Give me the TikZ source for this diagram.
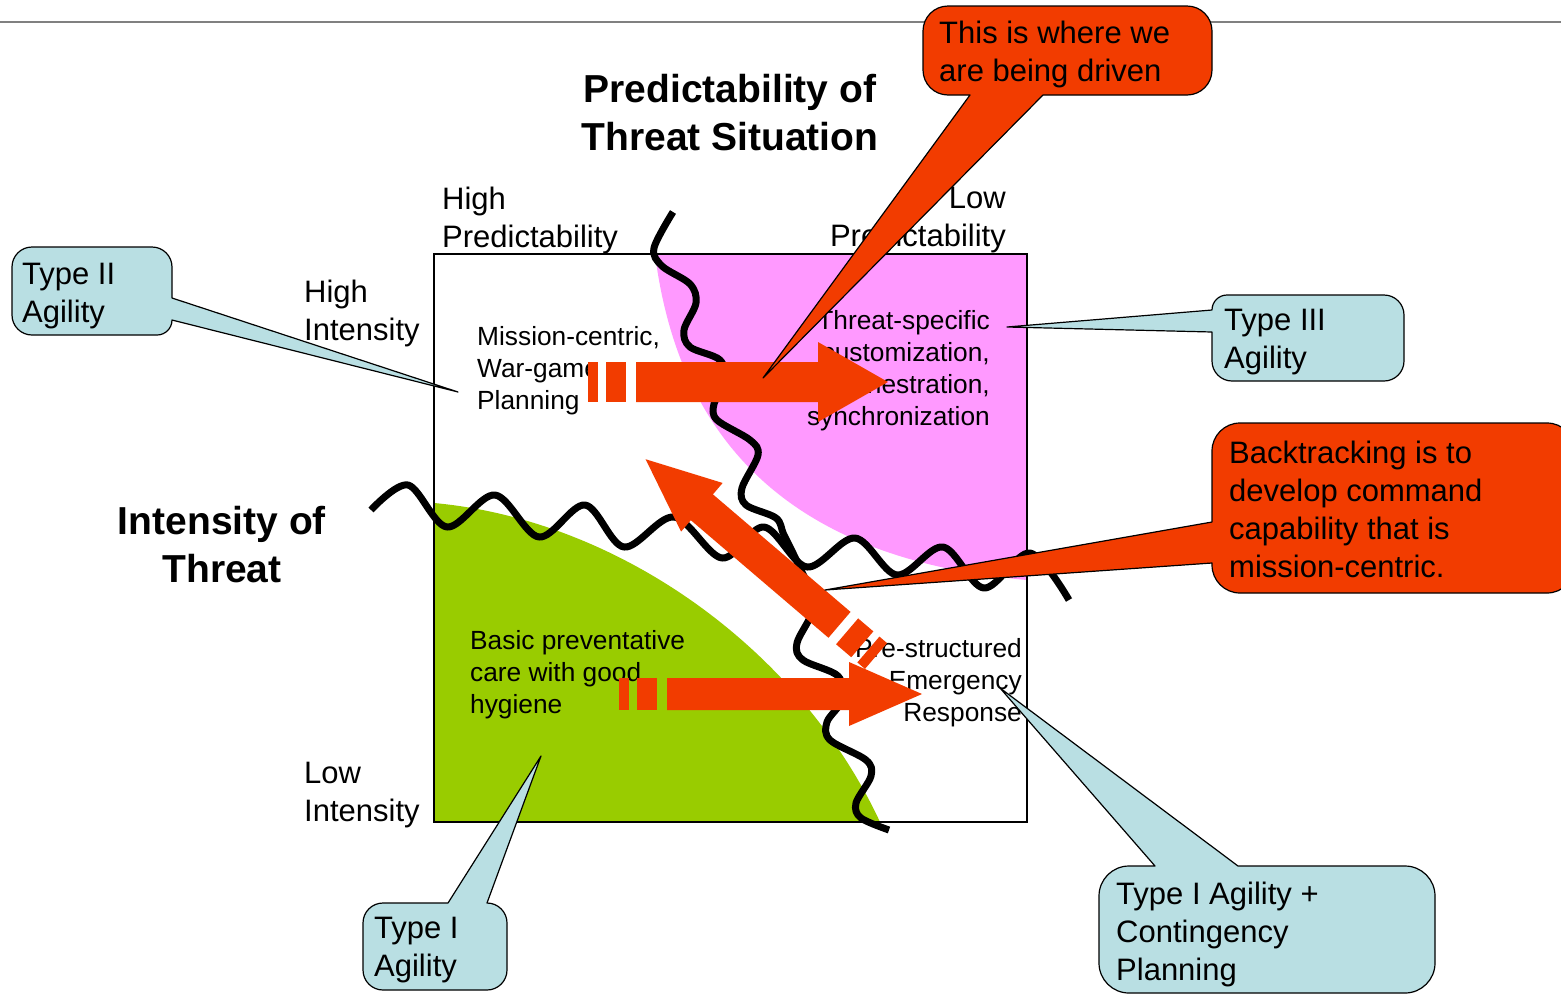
\documentclass[tikz,border=0pt]{standalone}
\usepackage{fontspec}
\setmainfont{Liberation Sans}
\definecolor{calred}{RGB}{242,60,0}
\definecolor{pinkzone}{RGB}{255,153,255}
\definecolor{greenzone}{RGB}{153,204,0}
\definecolor{calblue}{RGB}{185,223,227}
\definecolor{rulegray}{RGB}{128,128,128}
% rounded corners written as explicit curves (image coordinates, y downwards)
\newcommand\crTR[3]{-- ({#1-#3},#2) .. controls ({#1-0.448*#3},#2) and (#1,{#2+0.448*#3}) .. (#1,{#2+#3})}
\newcommand\crBR[3]{-- (#1,{#2-#3}) .. controls (#1,{#2-0.448*#3}) and ({#1-0.448*#3},#2) .. ({#1-#3},#2)}
\newcommand\crBL[3]{-- ({#1+#3},#2) .. controls ({#1+0.448*#3},#2) and (#1,{#2-0.448*#3}) .. (#1,{#2-#3})}
\newcommand\crTL[3]{-- (#1,{#2+#3}) .. controls (#1,{#2+0.448*#3}) and ({#1+0.448*#3},#2) .. ({#1+#3},#2)}
\newcommand\blockarrow[7]{%
  \begin{scope}[shift={(#1,#2)},rotate=#3]
    \fill[calred] (0,-#4) rectangle (10,#4);
    \fill[calred] (18,-#4) rectangle (38,#4);
    \fill[calred] (48,-#4) -- ({48+#6},-#4) -- ({48+#6},-#5) -- ({48+#6+#7},0)
      -- ({48+#6},#5) -- ({48+#6},#4) -- (48,#4) -- cycle;
  \end{scope}}
\tikzset{
  lbl/.style={inner sep=0pt, font=\fontsize{31}{38}\selectfont, align=left},
  ttl/.style={inner sep=0pt, font=\bfseries\fontsize{39}{48}\selectfont, align=center},
  inlbl/.style={inner sep=0pt, font=\fontsize{26.3}{32}\selectfont, align=left},
  wave/.style={line width=7pt, line join=round},
  bluecall/.style={fill=calblue, draw=black, line width=1.2pt, line join=round},
  redcall/.style={fill=calred, draw=black, line width=1.2pt, line join=round},
}
\begin{document}
\begin{tikzpicture}[x=1pt,y=-1pt]
\useasboundingbox (0,0) rectangle (1561,994);
\fill[white] (0,0) rectangle (1561,994);
% top rule
\draw[rulegray, line width=2pt] (0,22) -- (1561,22);
% zones
\fill[pinkzone] (655,254) -- (1027,254) -- (1027,580) .. controls (800,560) and (680,450) .. (655,254) -- cycle;
\fill[greenzone] (434,503) .. controls (620,520) and (800,650) .. (880,822) -- (434,822) -- cycle;
% main square
\draw[line width=2pt] (434,254) rectangle (1027,822);
% labels
\node[lbl, anchor=north west] (highpred) at (442,187) {High\\Predictability};
\node[lbl, anchor=north east, align=right] (lowpred) at (1006,187) {Low\\Predictability};
\node[lbl, anchor=north west] (highint) at (304,280) {High\\Intensity};
\node[lbl, anchor=north west] (lowint) at (304,762) {Low\\Intensity};
\node[ttl, anchor=north] (title) at (730,74) {Predictability of\\Threat Situation};
\node[ttl, anchor=north] (intens) at (222,506) {Intensity of\\Threat};
\node[inlbl, anchor=north west] (mission) at (477,326) {Mission-centric,\\War-game\\Planning};
\node[inlbl, anchor=north east, align=right] (threat) at (990,310) {Threat-specific\\customization,\\orchestration,\\synchronization};
\node[inlbl, anchor=north west] (basic) at (470,630) {Basic preventative\\care with good\\hygiene};
\node[inlbl, anchor=north east, align=right] (prestr) at (1022,638) {Pre-structured\\Emergency\\Response};
% wavy boundaries
\draw[wave] plot[smooth, tension=0.55] coordinates {(371,510) (408,485) (447,527) (495,495) (539,537) (585,505) (624,547) (674,517) (722,558) (764,527) (807,567) (855,538) (897,575) (943,547) (984,588) (1030,553) (1069,600)};
\draw[wave] plot[smooth, tension=0.55] coordinates {(673,212) (654,248) (662,266) (690,284) (696,303) (684,330) (690,347) (720,360) (725,382) (714,404) (717,420) (750,440) (758,455) (742,488) (746,505) (776,518) (784,535) (800,568) (814,605) (797,643) (803,660) (838,676) (842,700) (827,722) (830,740) (866,760) (871,776) (856,803) (861,818) (889,830)};
% block arrows
\blockarrow{588}{382}{0}{20}{40}{182}{70}
\blockarrow{619}{694}{0}{16}{32}{182}{73}
\blockarrow{876}{656}{139.5}{17}{32}{181}{74}
% callouts
\draw[redcall] (948,6) \crTR{1212}{6}{25} \crBR{1212}{95}{25} -- (1043,95) -- (763,378) -- (970,95) \crBL{923}{95}{25} \crTL{923}{6}{25} -- cycle;
\draw[redcall] (1240,423) \crTR{1575}{423}{28} \crBR{1575}{593}{28} \crBL{1212}{593}{28} -- (1212,563) -- (825,590) -- (1212,522) \crTL{1212}{423}{28} -- cycle;
\draw[bluecall] (32,247) \crTR{172}{247}{20} -- (172,298) -- (458,392) -- (172,320) \crBR{172}{335}{15} \crBL{12}{335}{20} \crTL{12}{247}{20} -- cycle;
\draw[bluecall] (1227,295) \crTR{1404}{295}{20} \crBR{1404}{381}{20} \crBL{1212}{381}{20} -- (1212,332) -- (1007,327) -- (1212,310) \crTL{1212}{295}{15} -- cycle;
\draw[bluecall] (383,903) -- (448,903) -- (541,756) -- (487,903) \crTR{507}{903}{20} \crBR{507}{990}{20} \crBL{363}{990}{20} \crTL{363}{903}{20} -- cycle;
\draw[bluecall] (1129,866) -- (1155,866) -- (1000,688) -- (1238,866) \crTR{1435}{866}{30} \crBR{1435}{993}{30} \crBL{1099}{993}{30} \crTL{1099}{866}{30} -- cycle;
% callout texts
\node[lbl, anchor=north west] (t2) at (22,263) {Type II\\Agility};
\node[lbl, anchor=north west] (t3) at (1224,309) {Type III\\Agility};
\node[lbl, anchor=north west] (t1) at (374,917) {Type I\\Agility};
\node[lbl, anchor=north west] (t1c) at (1116,882) {Type I Agility +\\Contingency\\Planning};
\node[lbl, anchor=north west] (drv) at (939,21) {This is where we\\are being driven};
\node[lbl, anchor=north west] (bt) at (1229,441) {Backtracking is to\\develop command\\capability that is\\mission-centric.};
\end{tikzpicture}
\end{document}
